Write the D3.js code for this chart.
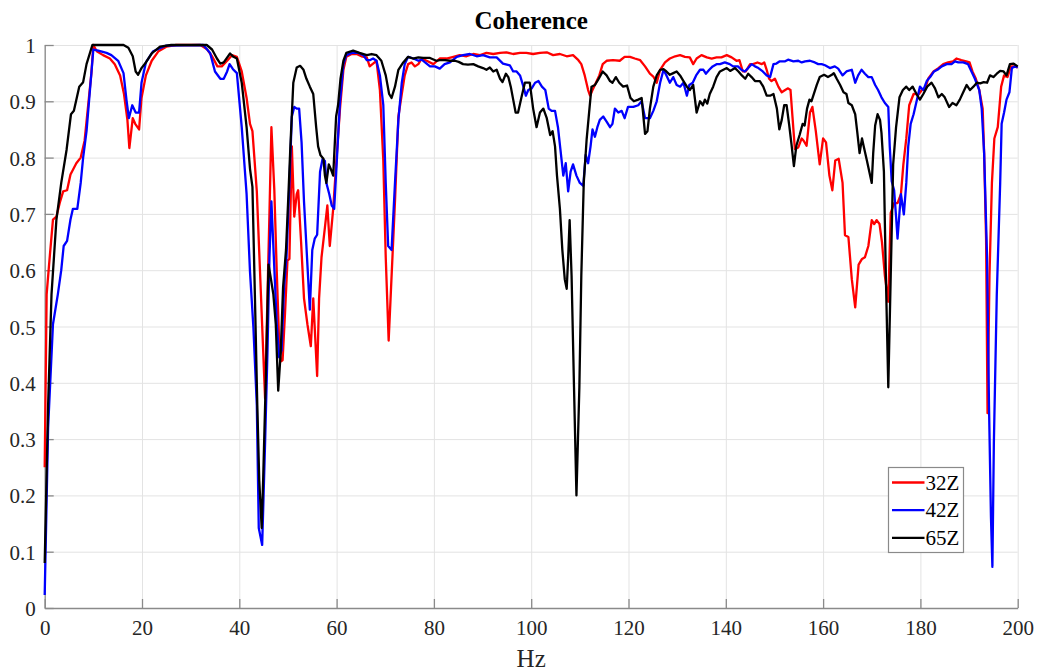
<!DOCTYPE html>
<html>
<head>
<meta charset="utf-8">
<script src="https://cdn.jsdelivr.net/npm/d3@7"></script>
<style>
  body { margin: 0; background: #fff; }
  svg { display: block; }
  .tick text { font-family: "Liberation Serif", "DejaVu Serif", serif; font-size: 21px; fill: #262626; }
</style>
</head>
<body>
<div id="chart"></div>
<script>
// tick values
var xTicks = [0, 20, 40, 60, 80, 100, 120, 140, 160, 180, 200];
var yTicks = [0, 0.1, 0.2, 0.3, 0.4, 0.5, 0.6, 0.7, 0.8, 0.9, 1];

// series names + colours
var seriesNames = ["32Z", "42Z", "65Z"];
var seriesColors = ["#ff0000", "#0000ff", "#000000"];

// coherence, [Hz, value]
var coh32Z = [[0,0.25],[0.4,0.557],[0.9,0.61],[1.7,0.69],[2.4,0.695],[3.1,0.72],[3.8,0.74],[4.6,0.742],[5.3,0.77],[6.5,0.79],[7.4,0.80],[8.2,0.83],[8.9,0.89],[9.6,0.95],[10,1.0],[10.7,0.989],[12,0.982],[13.4,0.976],[14.4,0.966],[15.5,0.946],[16.3,0.913],[17,0.867],[17.4,0.817],[18.1,0.87],[18.6,0.86],[19.4,0.85],[19.9,0.906],[20.8,0.946],[22,0.972],[23.4,0.989],[25,0.997],[27,1.0],[32,1.0],[33.3,0.993],[34.4,0.98],[35.5,0.962],[36.4,0.962],[37.5,0.972],[38.5,0.982],[39.5,0.979],[40.5,0.953],[41.5,0.906],[42.2,0.86],[42.7,0.847],[43.6,0.74],[44.2,0.61],[44.9,0.458],[45.3,0.372],[45.8,0.557],[46.2,0.702],[46.6,0.854],[47.2,0.742],[47.7,0.597],[48.2,0.47],[48.5,0.438],[48.9,0.44],[49.4,0.524],[49.9,0.617],[50.3,0.62],[50.8,0.82],[51.3,0.695],[51.8,0.735],[52.1,0.742],[52.7,0.65],[53.3,0.55],[54,0.504],[54.7,0.465],[55.2,0.55],[56,0.412],[56.4,0.55],[56.9,0.623],[57.6,0.676],[58.1,0.715],[58.6,0.643],[59.3,0.709],[60,0.80],[60.7,0.887],[61.4,0.956],[62,0.979],[63.1,0.984],[64.1,0.984],[65.1,0.98],[66.2,0.978],[66.8,0.962],[67.5,0.967],[68.2,0.972],[68.9,0.92],[69.6,0.795],[70.1,0.623],[70.7,0.475],[71.2,0.57],[72,0.722],[72.7,0.873],[73.4,0.913],[74,0.946],[74.7,0.966],[75.4,0.969],[76.1,0.962],[76.8,0.966],[77.5,0.976],[78.5,0.972],[79.9,0.966],[81.2,0.976],[82.6,0.976],[84,0.979],[85.3,0.982],[86.7,0.98],[88.1,0.984],[89.5,0.982],[90.8,0.986],[92.2,0.984],[93.6,0.986],[94.9,0.987],[96.3,0.984],[97.7,0.986],[99,0.986],[100.4,0.984],[101.8,0.986],[103.2,0.987],[104.5,0.982],[105.9,0.984],[107.3,0.98],[108.6,0.982],[109.7,0.973],[110.3,0.966],[111,0.946],[111.7,0.92],[112.1,0.91],[112.6,0.92],[113.3,0.933],[114,0.946],[114.7,0.966],[115.5,0.972],[116.8,0.973],[118.2,0.972],[119.2,0.979],[120.3,0.979],[121.3,0.976],[122.4,0.973],[123.4,0.962],[124.4,0.949],[125.1,0.944],[125.8,0.933],[126.5,0.956],[127.5,0.969],[128.5,0.976],[129.6,0.98],[130.6,0.982],[131.6,0.979],[132.6,0.978],[133.3,0.966],[134,0.976],[135,0.982],[136.1,0.978],[137.1,0.976],[138.1,0.978],[139.1,0.978],[140.2,0.982],[141.2,0.978],[142.2,0.972],[142.8,0.973],[143.5,0.953],[144.1,0.953],[145,0.966],[145.6,0.966],[146.5,0.969],[147.4,0.966],[147.9,0.969],[148.4,0.956],[148.9,0.94],[149.4,0.936],[150.1,0.94],[150.8,0.926],[151.5,0.916],[152.2,0.92],[152.8,0.923],[153.3,0.92],[153.7,0.873],[154.2,0.815],[154.9,0.818],[155.6,0.834],[156,0.83],[156.6,0.821],[157.3,0.88],[157.8,0.89],[158.5,0.847],[159.3,0.788],[160,0.834],[160.6,0.827],[161.3,0.768],[161.9,0.742],[162.5,0.795],[163.2,0.798],[164,0.755],[164.5,0.662],[165.2,0.659],[165.9,0.584],[166.6,0.534],[167.3,0.61],[168,0.62],[168.6,0.623],[169.3,0.643],[170,0.689],[170.5,0.682],[171,0.689],[171.6,0.682],[172.1,0.65],[172.7,0.59],[173.4,0.544],[173.9,0.702],[174.6,0.719],[175.3,0.719],[176,0.735],[176.5,0.788],[177.1,0.834],[177.7,0.893],[178.6,0.913],[179.6,0.912],[180.3,0.92],[181,0.923],[181.6,0.94],[182.7,0.953],[183.7,0.959],[184.7,0.966],[185.7,0.969],[186.7,0.971],[187.4,0.976],[188.4,0.973],[189.4,0.971],[190.1,0.969],[190.7,0.953],[191.4,0.94],[192.1,0.92],[192.8,0.887],[193.1,0.808],[193.5,0.656],[193.8,0.346],[194.2,0.59],[194.7,0.755],[195.2,0.834],[195.9,0.854],[196.6,0.926],[197.2,0.946],[197.9,0.943],[198.6,0.962],[199.3,0.962],[200,0.96]];

var coh42Z = [[0,0.023],[0.7,0.32],[1.7,0.504],[2.7,0.557],[3.4,0.6],[3.9,0.643],[4.6,0.652],[5.3,0.69],[5.8,0.709],[6.7,0.709],[7.4,0.755],[7.9,0.80],[8.6,0.847],[9.3,0.92],[10,0.992],[11,0.99],[12.7,0.986],[13.7,0.982],[15.1,0.972],[16.2,0.95],[16.8,0.903],[17.3,0.87],[18,0.893],[18.7,0.88],[19.4,0.88],[19.9,0.933],[20.8,0.969],[22.3,0.989],[25,0.999],[32.6,1.0],[34,0.986],[35,0.953],[36.1,0.94],[36.8,0.94],[37.5,0.953],[38,0.966],[38.7,0.957],[39.5,0.95],[40.5,0.854],[41.5,0.735],[42.2,0.597],[42.9,0.498],[43.6,0.36],[44,0.142],[44.7,0.112],[45.3,0.293],[45.8,0.458],[46.2,0.623],[46.6,0.722],[47.1,0.623],[47.7,0.504],[48.2,0.445],[48.7,0.458],[49.2,0.57],[49.7,0.623],[50.3,0.755],[50.8,0.873],[51.3,0.89],[51.8,0.887],[52.3,0.887],[52.8,0.827],[53.3,0.722],[54,0.61],[54.5,0.53],[55,0.636],[55.5,0.656],[56,0.663],[56.6,0.775],[57.1,0.797],[57.6,0.794],[57.9,0.755],[58.5,0.735],[59,0.715],[59.5,0.709],[60,0.788],[60.7,0.9],[61.4,0.966],[62,0.982],[63.1,0.986],[64.5,0.986],[65.5,0.982],[66.2,0.973],[66.8,0.973],[67.5,0.976],[68.2,0.972],[68.9,0.946],[69.6,0.893],[70.1,0.755],[70.6,0.643],[71.3,0.636],[72,0.755],[72.7,0.867],[73.4,0.933],[74,0.966],[74.7,0.979],[75.8,0.976],[76.8,0.972],[77.5,0.974],[78.5,0.967],[79.2,0.962],[80.2,0.962],[81.2,0.958],[82.2,0.966],[83.3,0.969],[84.7,0.979],[86,0.982],[87.4,0.984],[88.8,0.98],[90.1,0.982],[91.5,0.978],[92.9,0.978],[94.2,0.967],[95.6,0.964],[96.3,0.953],[97,0.953],[97.7,0.946],[98.4,0.926],[98.9,0.91],[99.4,0.92],[100.1,0.923],[100.8,0.933],[101.5,0.936],[102.2,0.926],[102.9,0.92],[103.6,0.887],[104.2,0.883],[104.9,0.883],[105.5,0.854],[106,0.815],[106.6,0.768],[107.1,0.79],[107.6,0.74],[108.1,0.775],[108.6,0.788],[109.3,0.768],[110,0.755],[110.7,0.75],[111.2,0.805],[111.7,0.79],[112.2,0.82],[112.6,0.85],[113.1,0.837],[113.6,0.854],[114.1,0.867],[114.8,0.873],[115.5,0.864],[116.2,0.854],[116.7,0.86],[117.2,0.887],[117.9,0.88],[118.6,0.883],[119.2,0.87],[119.9,0.89],[121,0.89],[122,0.893],[122.7,0.9],[123.4,0.87],[124.4,0.87],[125.1,0.883],[125.8,0.9],[126.5,0.933],[127.2,0.956],[127.8,0.946],[128.5,0.933],[129.2,0.943],[129.9,0.929],[130.6,0.926],[131.3,0.933],[132,0.91],[132.5,0.929],[133.2,0.933],[133.9,0.946],[134.7,0.956],[135.4,0.956],[135.9,0.949],[136.6,0.956],[137.3,0.962],[138.1,0.966],[138.8,0.966],[139.8,0.969],[140.8,0.966],[141.5,0.962],[142.5,0.962],[143.2,0.956],[143.9,0.953],[144.6,0.959],[145.3,0.966],[146,0.962],[146.7,0.959],[147.6,0.953],[148.4,0.946],[149.1,0.943],[149.8,0.966],[150.4,0.967],[151.1,0.971],[152.2,0.971],[152.8,0.974],[153.9,0.971],[154.9,0.972],[155.6,0.969],[156.3,0.971],[157.3,0.972],[158.3,0.969],[159,0.966],[159.7,0.966],[160.4,0.964],[161.4,0.959],[162.4,0.962],[163.1,0.958],[164,0.946],[164.8,0.953],[165.9,0.956],[166.6,0.933],[167.2,0.946],[167.9,0.956],[168.6,0.949],[169.3,0.943],[170,0.943],[170.7,0.929],[171.3,0.92],[172,0.907],[172.7,0.897],[173.4,0.89],[173.7,0.82],[174.1,0.758],[174.6,0.742],[175,0.695],[175.3,0.656],[175.7,0.702],[176,0.735],[176.6,0.699],[177.1,0.755],[177.5,0.82],[178,0.86],[178.6,0.877],[179.3,0.903],[179.9,0.926],[180.6,0.92],[181.3,0.936],[182,0.943],[182.8,0.953],[183.5,0.956],[184.4,0.962],[185.4,0.966],[186.4,0.966],[187.1,0.971],[187.8,0.969],[188.8,0.969],[189.8,0.966],[190.5,0.953],[191.2,0.94],[192.1,0.92],[192.6,0.887],[193.1,0.808],[193.7,0.623],[194.1,0.36],[194.5,0.162],[194.8,0.073],[195.1,0.293],[195.7,0.557],[196.4,0.755],[196.7,0.86],[197.2,0.88],[197.7,0.903],[198.3,0.916],[198.8,0.959],[199.5,0.962],[200,0.96]];

var coh65Z = [[0,0.08],[0.7,0.36],[1.4,0.557],[2.4,0.689],[3.4,0.755],[4.5,0.814],[5.4,0.877],[6,0.883],[7.1,0.926],[7.9,0.934],[8.6,0.966],[9.8,1.0],[12,1.0],[16.2,1.0],[17.2,0.995],[18.1,0.98],[18.7,0.953],[19.2,0.947],[19.9,0.959],[20.8,0.969],[22,0.985],[23.7,0.997],[26,1.0],[33.3,1.0],[34.4,0.992],[35.4,0.976],[36.1,0.967],[36.8,0.969],[37.6,0.979],[38.1,0.985],[38.8,0.979],[39.5,0.976],[40.5,0.933],[41.5,0.854],[42.2,0.78],[42.7,0.748],[43.2,0.557],[43.7,0.36],[44.1,0.227],[44.6,0.142],[44.9,0.227],[45.5,0.425],[46,0.61],[46.4,0.59],[47,0.557],[47.5,0.504],[48,0.386],[48.5,0.452],[49,0.57],[49.6,0.636],[50.1,0.735],[50.5,0.82],[51.1,0.933],[51.8,0.96],[52.5,0.963],[53.2,0.956],[53.8,0.94],[54.5,0.926],[55.2,0.913],[55.8,0.854],[56.2,0.82],[56.7,0.804],[57.3,0.798],[57.6,0.768],[57.9,0.755],[58.4,0.788],[58.8,0.78],[59.3,0.768],[59.9,0.873],[60.3,0.893],[60.8,0.94],[61.4,0.972],[62,0.986],[63.4,0.99],[64.7,0.986],[66.2,0.982],[67.2,0.984],[68.2,0.982],[69.2,0.972],[70.1,0.946],[70.8,0.913],[71.3,0.906],[72,0.926],[72.7,0.956],[73.7,0.969],[74.7,0.979],[75.7,0.976],[76.8,0.978],[77.8,0.977],[79.2,0.977],[80.5,0.972],[81.2,0.973],[82.3,0.973],[83.3,0.972],[84.3,0.972],[85.1,0.97],[86,0.966],[87,0.965],[88.1,0.966],[89.1,0.962],[90.1,0.959],[90.8,0.956],[91.5,0.96],[92.2,0.953],[92.9,0.956],[93.6,0.94],[94.1,0.934],[94.8,0.949],[95.3,0.943],[95.8,0.926],[96.3,0.903],[96.8,0.88],[97.3,0.88],[98,0.907],[98.7,0.933],[99.7,0.933],[100.4,0.887],[101.1,0.854],[101.8,0.88],[102.5,0.887],[103.2,0.87],[103.9,0.84],[104.4,0.847],[104.9,0.82],[105.3,0.768],[105.9,0.709],[106.4,0.636],[106.9,0.584],[107.3,0.567],[107.6,0.623],[107.9,0.689],[108.3,0.59],[108.8,0.392],[109.3,0.2],[109.9,0.392],[110.3,0.59],[110.8,0.755],[111.4,0.833],[111.9,0.88],[112.4,0.926],[113.1,0.929],[113.8,0.939],[114.7,0.953],[115.5,0.946],[116.2,0.936],[116.7,0.933],[117.4,0.943],[118.1,0.933],[118.9,0.926],[119.7,0.928],[120.4,0.906],[121.1,0.9],[122,0.903],[122.7,0.906],[123.4,0.842],[123.9,0.847],[124.4,0.887],[125.1,0.926],[125.8,0.946],[126.5,0.956],[127.2,0.957],[127.8,0.953],[128.5,0.947],[129.2,0.95],[129.9,0.953],[130.6,0.946],[131.3,0.936],[132,0.926],[132.6,0.92],[133.3,0.929],[134,0.88],[134.7,0.9],[135.3,0.893],[135.7,0.903],[136.2,0.896],[136.7,0.913],[137.4,0.926],[138.1,0.943],[138.8,0.953],[139.5,0.956],[140.2,0.959],[140.9,0.954],[141.9,0.959],[142.6,0.953],[143.3,0.946],[144,0.94],[144.6,0.949],[145.3,0.943],[146,0.936],[147,0.936],[147.7,0.926],[148.4,0.91],[149.1,0.91],[149.8,0.913],[150.5,0.887],[151,0.85],[151.5,0.867],[152,0.893],[152.5,0.893],[153,0.86],[153.5,0.824],[154,0.785],[154.5,0.821],[155.2,0.841],[155.8,0.86],[156.2,0.857],[156.7,0.887],[157.2,0.903],[157.6,0.9],[158.1,0.913],[158.7,0.929],[159.3,0.943],[160.2,0.947],[161,0.943],[161.8,0.947],[162.2,0.95],[162.8,0.94],[163.5,0.929],[164.2,0.916],[164.8,0.913],[165.2,0.897],[165.9,0.893],[166.6,0.877],[167,0.847],[167.5,0.808],[168,0.834],[168.4,0.818],[169,0.795],[169.5,0.775],[170,0.755],[170.3,0.808],[170.7,0.857],[171.2,0.877],[171.7,0.867],[172,0.844],[172.5,0.775],[172.9,0.59],[173.4,0.392],[173.9,0.59],[174.4,0.788],[175,0.854],[175.7,0.907],[176.4,0.92],[177.1,0.926],[177.7,0.92],[178.4,0.926],[179.2,0.913],[179.9,0.903],[180.6,0.913],[181.4,0.926],[182.3,0.933],[183,0.923],[183.7,0.907],[184.4,0.913],[185,0.907],[185.9,0.89],[186.6,0.897],[187.4,0.893],[188.1,0.903],[188.8,0.916],[189.5,0.929],[190.2,0.92],[190.9,0.926],[191.6,0.933],[192.3,0.932],[193,0.934],[193.7,0.933],[194.3,0.946],[195,0.943],[195.7,0.949],[196.4,0.954],[197.1,0.953],[197.7,0.946],[198.4,0.966],[199.1,0.967],[200,0.962]];

var allSeries = [coh32Z, coh42Z, coh65Z];

// sizes
var svgWidth = 1038;
var svgHeight = 671;
var margin = { top: 45, right: 20.3, bottom: 63, left: 44.7 };
var width = svgWidth - margin.left - margin.right;
var height = svgHeight - margin.top - margin.bottom;
var fontFam = '"Liberation Serif", "DejaVu Serif", serif';

var svg = d3.select("#chart")
    .append("svg")
    .attr("width", svgWidth)
    .attr("height", svgHeight);

var chart = svg.append("g")
    .attr("transform", `translate(${margin.left}, ${margin.top})`);

var x = d3.scaleLinear().domain([0, 200]).range([0, width]);
var y = d3.scaleLinear().domain([0, 1]).range([height, 0]);

// grid
chart.append("g")
    .attr("class", "grid")
    .call(d3.axisBottom(x).tickValues(xTicks).tickSize(height).tickFormat(""))
    .call(g => g.select(".domain").remove())
    .call(g => g.selectAll("line").attr("stroke", "#e3e3e3").attr("stroke-width", 1));

chart.append("g")
    .attr("class", "grid")
    .call(d3.axisLeft(y).tickValues(yTicks).tickSize(-width).tickFormat(""))
    .call(g => g.select(".domain").remove())
    .call(g => g.selectAll("line").attr("stroke", "#e3e3e3").attr("stroke-width", 1));

// axes, ticks pointing inward
var xAxis = chart.append("g")
    .attr("transform", `translate(0, ${height})`)
    .call(d3.axisBottom(x).tickValues(xTicks).tickSizeInner(-9).tickSizeOuter(0).tickPadding(12).tickFormat(d3.format("d")));

var yAxis = chart.append("g")
    .call(d3.axisLeft(y).tickValues(yTicks).tickSizeInner(-9).tickSizeOuter(0).tickPadding(9)
        .tickFormat(d => d === 0 || d === 1 ? String(d) : d3.format(".1f")(d)));

[xAxis, yAxis].forEach(function(ax) {
    ax.select(".domain").attr("stroke", "#8a8a8a").attr("stroke-width", 1.3);
    ax.selectAll(".tick line").attr("stroke", "#8a8a8a").attr("stroke-width", 1.3);
});
yAxis.selectAll(".tick text").attr("dy", "0.36em");

// lines
var line = d3.line()
    .x(d => x(d[0]))
    .y(d => y(d[1]));

allSeries.forEach(function(s, i) {
    chart.append("path")
        .datum(s)
        .attr("fill", "none")
        .attr("stroke", seriesColors[i])
        .attr("stroke-width", 2.3)
        .attr("stroke-linejoin", "round")
        .attr("d", line);
});

// title + label
svg.append("text")
    .attr("x", margin.left + width / 2)
    .attr("y", 29)
    .attr("text-anchor", "middle")
    .attr("font-family", fontFam)
    .attr("font-weight", "bold")
    .attr("font-size", "25px")
    .attr("fill", "#000")
    .text("Coherence");

svg.append("text")
    .attr("x", margin.left + width / 2)
    .attr("y", 667)
    .attr("text-anchor", "middle")
    .attr("font-family", fontFam)
    .attr("font-size", "25px")
    .attr("fill", "#262626")
    .text("Hz");

// legend
var legend = svg.append("g").attr("transform", "translate(888.5, 467.5)");
legend.append("rect")
    .attr("width", 75)
    .attr("height", 85)
    .attr("fill", "#fff")
    .attr("stroke", "#8a8a8a")
    .attr("stroke-width", 1.2);

seriesNames.forEach(function(name, i) {
    var ly = 15 + i * 27.7;
    legend.append("line")
        .attr("x1", 3.5).attr("x2", 36)
        .attr("y1", ly).attr("y2", ly)
        .attr("stroke", seriesColors[i])
        .attr("stroke-width", 2.3);
    legend.append("text")
        .attr("x", 37)
        .attr("y", ly + 7)
        .attr("font-family", fontFam)
        .attr("font-size", "21px")
        .attr("fill", "#000")
        .text(name);
});
</script>
</body>
</html>
